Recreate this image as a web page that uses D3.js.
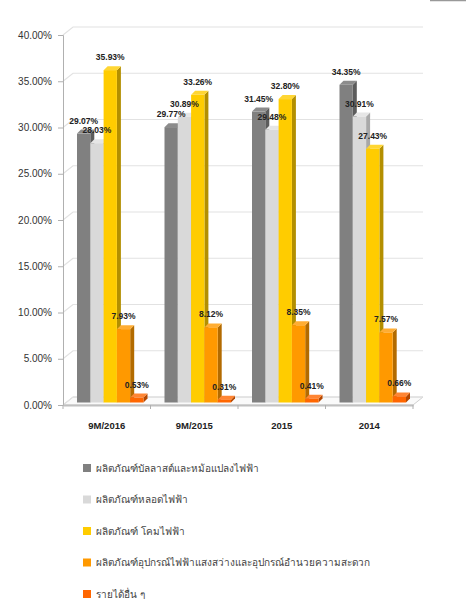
<!DOCTYPE html>
<html>
<head>
<meta charset="utf-8">
<script src="https://cdn.jsdelivr.net/npm/d3@7"></script>
<style>
  body { margin: 0; background: #fff; }
  svg { display: block; font-family: "Liberation Sans", Arial, sans-serif; }
</style>
</head>
<body>
<div id="chart"></div>
<script>
// data
var categories = ["9M/2016", "9M/2015", "2015", "2014"];
var seriesNames = [
    "ผลิตภัณฑ์บัลลาสต์และหม้อแปลงไฟฟ้า",
    "ผลิตภัณฑ์หลอดไฟฟ้า",
    "ผลิตภัณฑ์ โคมไฟฟ้า",
    "ผลิตภัณฑ์อุปกรณ์ไฟฟ้าแสงสว่างและอุปกรณ์อำนวยความสะดวก",
    "รายได้อื่น ๆ"
];
var ballast = [29.07, 29.77, 31.45, 34.35];
var lamps = [28.03, 30.89, 29.48, 30.91];
var luminaires = [35.93, 33.26, 32.80, 27.43];
var accessories = [7.93, 8.12, 8.35, 7.57];
var otherIncome = [0.53, 0.31, 0.41, 0.66];
var yTicks = [0, 5, 10, 15, 20, 25, 30, 35, 40];

var seriesValues = [ballast, lamps, luminaires, accessories, otherIncome];
var fronts = ["#808080", "#d9d9d9", "#ffcc00", "#ff9900", "#ff6600"];
var sides = ["#5c5c5c", "#a8a8a8", "#b38f00", "#b36b00", "#b34700"];
var tops = ["#8c8c8c", "#e6e6e6", "#ffd633", "#ffad33", "#ff8533"];

//svg size
var svgWidth = 466;
var svgHeight = 599;
//3d depth of walls and of bars
var wallDx = 10, wallDy = 8;
var barDx = 4, barDy = 4;

var svg = d3.select("#chart").append("svg")
    .attr("width", svgWidth)
    .attr("height", svgHeight);

//scales
var x = d3.scaleBand().domain(categories).range([63, 413]);
var xInner = d3.scaleBand().domain(d3.range(seriesValues.length)).range([14, 80.5]);
var y = d3.scaleLinear().domain([0, 40]).range([405, 35]);

//top-right fragment
svg.append("line")
    .attr("x1", 430).attr("x2", 466)
    .attr("y1", 0.5).attr("y2", 0.5)
    .attr("stroke", "#999").attr("stroke-width", 1.5);

//floor
var y0 = y(0);
svg.append("path")
    .attr("d", `M63,${y0} L413,${y0} L${413 + wallDx},${y0 - wallDy} L${63 + wallDx},${y0 - wallDy} Z`)
    .attr("fill", "#fafafa")
    .attr("stroke", "#d0d0d0");

//grid lines on left wall and back wall
var grid = svg.append("g");
yTicks.forEach(function (t) {
    grid.append("path")
        .attr("d", `M63,${y(t)} L${63 + wallDx},${y(t) - wallDy} L${413 + wallDx},${y(t) - wallDy}`)
        .attr("fill", "none")
        .attr("stroke", "#e2e2e2")
        .attr("stroke-width", 1.2);
});

//y axis
var yAxis = svg.append("g")
    .attr("transform", "translate(63,0)")
    .call(d3.axisLeft(y).tickValues(yTicks).tickSize(5).tickPadding(6)
        .tickFormat(function (d) { return d.toFixed(2) + "%"; }));
yAxis.select(".domain").attr("stroke", "#b0b0b0");
yAxis.selectAll(".tick line").attr("stroke", "#b0b0b0");
yAxis.selectAll("text")
    .attr("font-family", "'Liberation Sans', Arial, sans-serif")
    .attr("font-size", "10px")
    .attr("fill", "#333");

//x axis
var xAxis = svg.append("g")
    .attr("transform", `translate(0,${y0})`)
    .call(d3.axisBottom(x).tickSize(0).tickPadding(17));
xAxis.select(".domain").attr("stroke", "#c0c0c0").attr("stroke-width", 2);
xAxis.selectAll("text")
    .attr("font-family", "'Liberation Sans', Arial, sans-serif")
    .attr("font-size", "9.5px")
    .attr("font-weight", "bold")
    .attr("fill", "#222");
//category separators
svg.append("g").selectAll("line")
    .data(categories.concat(["end"]))
    .enter()
    .append("line")
    .attr("x1", (d, i) => i < categories.length ? x(d) : x.range()[1])
    .attr("x2", (d, i) => i < categories.length ? x(d) : x.range()[1])
    .attr("y1", y0).attr("y2", y0 + 4)
    .attr("stroke", "#b0b0b0");

//bars
var barShift = -2.5;
var bars = svg.append("g");
categories.forEach(function (c, ci) {
    seriesValues.forEach(function (vals, si) {
        var bx = x(c) + xInner(si);
        var bw = xInner.bandwidth();
        var top = y(vals[ci]) + barShift;
        var bottom = y0 + barShift;
        var g = bars.append("g");
        g.append("path")
            .attr("d", `M${bx + bw},${top} L${bx + bw + barDx},${top - barDy} L${bx + bw + barDx},${bottom - barDy} L${bx + bw},${bottom} Z`)
            .attr("fill", sides[si]);
        g.append("path")
            .attr("d", `M${bx},${top} L${bx + barDx},${top - barDy} L${bx + bw + barDx},${top - barDy} L${bx + bw},${top} Z`)
            .attr("fill", tops[si]);
        g.append("rect")
            .attr("x", bx).attr("y", top)
            .attr("width", bw).attr("height", bottom - top)
            .attr("fill", fronts[si]);
    });
});

//value labels
var labels = svg.append("g");
categories.forEach(function (c, ci) {
    seriesValues.forEach(function (vals, si) {
        labels.append("text")
            .attr("x", x(c) + xInner(si) + xInner.bandwidth() / 2)
            .attr("y", y(vals[ci]) + barShift - 10)
            .attr("text-anchor", "middle")
            .attr("font-size", "8.5px")
            .attr("font-weight", "bold")
            .attr("fill", "#222")
            .text(vals[ci].toFixed(2) + "%");
    });
});

//legend
var legend = svg.append("g");
seriesNames.forEach(function (name, i) {
    var ly = 468 + i * 31.5;
    legend.append("rect")
        .attr("x", 83).attr("y", ly - 4)
        .attr("width", 8).attr("height", 8)
        .attr("fill", fronts[i]);
    legend.append("text")
        .attr("x", 96).attr("y", ly + 3.5)
        .attr("font-size", "10px")
        .attr("fill", "#444")
        .text(name);
});
</script>
</body>
</html>
